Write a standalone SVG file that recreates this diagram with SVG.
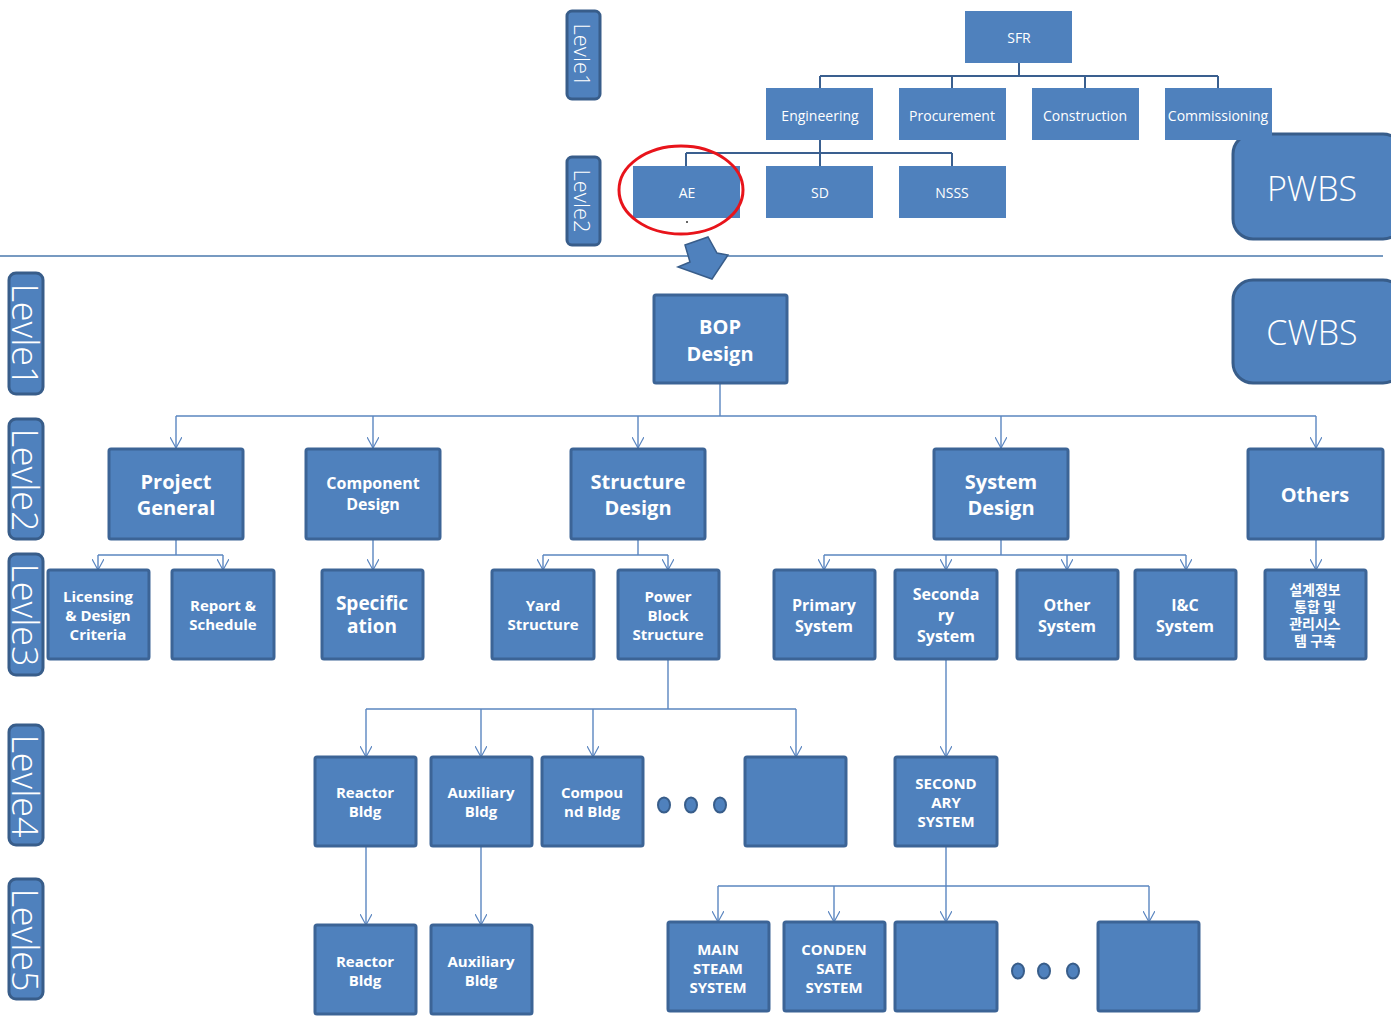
<svg xmlns="http://www.w3.org/2000/svg" width="1391" height="1025" viewBox="0 0 1391 1025">
<defs>
<style>
.tbox{fill:#4f81bd;stroke:none}
.box{fill:#4f81bd;stroke:#3c6496;stroke-width:3}
.lvl{fill:#4f81bd;stroke:#385d8a;stroke-width:3}
.wbs{fill:#4f81bd;stroke:#385d8a;stroke-width:3}
.tt{font-family:"Open Sans","Noto Sans","Noto Sans CJK KR",sans-serif;font-size:14px;fill:#fff;text-anchor:middle;dominant-baseline:central}
.bt{font-family:"Open Sans","Noto Sans","Noto Sans CJK KR",sans-serif;font-weight:bold;fill:#fff;text-anchor:middle;dominant-baseline:central}
.lt{font-family:"Open Sans","Noto Sans",sans-serif;font-weight:300;fill:#fff;text-anchor:middle;dominant-baseline:central}
.kt{font-family:"Noto Sans CJK KR",sans-serif;font-weight:bold;fill:#fff;text-anchor:middle;dominant-baseline:central;font-size:14px}
.tc{fill:none;stroke:#3a5f8f;stroke-width:2}
.c{fill:none;stroke:#5b86c0;stroke-width:1.4}
.ca{fill:none;stroke:#5b86c0;stroke-width:1.4;marker-end:url(#v)}
.dot{fill:#4f81bd;stroke:#385d8a;stroke-width:2}
</style>
<marker id="v" viewBox="0 0 12 12" refX="11" refY="6" markerWidth="12" markerHeight="12" markerUnits="userSpaceOnUse" orient="auto">
<path d="M0,0 L11,6 L0,12" fill="none" stroke="#5b86c0" stroke-width="1.2"/>
</marker>
</defs>
<rect width="1391" height="1025" fill="#fff"/>

<!-- separator -->
<line x1="0" y1="256" x2="1383" y2="256" stroke="#4a78ad" stroke-width="1.3"/>

<!-- connectors -->
<g id="connectors">
<path class="tc" d="M1019,63 V76 M820,76 H1218 M820,76 V88 M952,76 V88 M1085,76 V88 M1218,76 V88"/>
<path class="tc" d="M820,140 V153 M686,153 H952 M686,153 V166 M820,153 V166 M952,153 V166"/>
<path class="c" d="M720,383 V416 M176,416 H1316"/>
<path class="ca" d="M176,416 V448"/>
<path class="ca" d="M373,416 V448"/>
<path class="ca" d="M638,416 V448"/>
<path class="ca" d="M1001,416 V448"/>
<path class="ca" d="M1316,416 V448"/>
<path class="c" d="M176,539 V555 M98,555 H223"/>
<path class="ca" d="M98,555 V570"/>
<path class="ca" d="M223,555 V570"/>
<path class="ca" d="M373,539 V570"/>
<path class="c" d="M638,539 V555 M543,555 H668"/>
<path class="ca" d="M543,555 V570"/>
<path class="ca" d="M668,555 V570"/>
<path class="c" d="M1001,539 V555 M824,555 H1186"/>
<path class="ca" d="M824,555 V570"/>
<path class="ca" d="M946,555 V570"/>
<path class="ca" d="M1067,555 V570"/>
<path class="ca" d="M1186,555 V570"/>
<path class="ca" d="M1316,539 V570"/>
<path class="c" d="M668,660 V709 M366,709 H796"/>
<path class="ca" d="M366,709 V757"/>
<path class="ca" d="M481,709 V757"/>
<path class="ca" d="M593,709 V757"/>
<path class="ca" d="M796,709 V757"/>
<path class="ca" d="M946,660 V757"/>
<path class="ca" d="M366,847 V925"/>
<path class="ca" d="M481,847 V925"/>
<path class="c" d="M946,847 V886 M718,886 H1149"/>
<path class="ca" d="M718,886 V922"/>
<path class="ca" d="M834,886 V922"/>
<path class="ca" d="M946,886 V922"/>
<path class="ca" d="M1149,886 V922"/>
</g>

<!-- top level labels -->
<g id="top-levle1"><rect class="lvl" x="567" y="11" width="33" height="88" rx="5"/><text class="lt" font-size="22" transform="translate(583,55) rotate(90)">Levle1</text></g>
<g id="top-levle2"><rect class="lvl" x="567" y="157" width="33" height="88" rx="5"/><text class="lt" font-size="22" transform="translate(583,201) rotate(90)">Levle2</text></g>

<!-- PWBS / CWBS -->
<g id="pwbs"><rect class="wbs" x="1233" y="134" width="170" height="105" rx="20"/><text class="lt" font-size="34" x="1312" y="188">PWBS</text></g>
<g id="cwbs"><rect class="wbs" x="1233" y="280" width="170" height="103" rx="20"/><text class="lt" font-size="34" x="1312" y="332">CWBS</text></g>

<!-- top tree -->
<g id="sfr"><rect class="tbox" x="965" y="11" width="107" height="52"/><text class="tt" font-size="13" x="1019" y="37">SFR</text></g>
<g id="engineering"><rect class="tbox" x="766" y="88" width="107" height="52"/><text class="tt" x="820" y="115">Engineering</text></g>
<g id="procurement"><rect class="tbox" x="899" y="88" width="107" height="52"/><text class="tt" x="952" y="115">Procurement</text></g>
<g id="construction"><rect class="tbox" x="1032" y="88" width="107" height="52"/><text class="tt" x="1085" y="115">Construction</text></g>
<g id="commissioning"><rect class="tbox" x="1165" y="88" width="107" height="52" stroke="#fff" stroke-width="2"/><text class="tt" x="1218" y="115">Commissioning</text></g>
<g id="ae"><rect class="tbox" x="633" y="166" width="107" height="52"/><text class="tt" x="687" y="192">AE</text><circle cx="687" cy="222" r="1" fill="#333"/></g>
<g id="sd"><rect class="tbox" x="766" y="166" width="107" height="52"/><text class="tt" x="820" y="192">SD</text></g>
<g id="nsss"><rect class="tbox" x="899" y="166" width="107" height="52"/><text class="tt" x="952" y="192">NSSS</text></g>
<ellipse cx="681" cy="190" rx="62" ry="44" fill="none" stroke="#e8141b" stroke-width="3"/>

<!-- block arrow -->
<path d="M685,245 L708,237 L717,253 L728,255 L712,279 L678,267 L690,262 Z" fill="#4f81bd" stroke="#385d8a" stroke-width="1.5"/>

<!-- lower level labels -->
<g id="levle1"><rect class="lvl" x="9" y="273" width="34" height="121" rx="7"/><text class="lt" font-size="36" transform="translate(25,335) rotate(90)">Levle1</text></g>
<g id="levle2"><rect class="lvl" x="9" y="419" width="34" height="120" rx="7"/><text class="lt" font-size="36" transform="translate(25,480) rotate(90)">Levle2</text></g>
<g id="levle3"><rect class="lvl" x="9" y="554" width="34" height="121" rx="7"/><text class="lt" font-size="36" transform="translate(25,615) rotate(90)">Levle3</text></g>
<g id="levle4"><rect class="lvl" x="9" y="725" width="34" height="120" rx="7"/><text class="lt" font-size="36" transform="translate(25,786) rotate(90)">Levle4</text></g>
<g id="levle5"><rect class="lvl" x="9" y="879" width="34" height="120" rx="7"/><text class="lt" font-size="36" transform="translate(25,940) rotate(90)">Levle5</text></g>

<!-- level1 -->
<g id="bop"><rect class="box" x="654" y="295" width="133" height="88" rx="2"/><text class="bt" font-size="20" x="720" y="326">BOP</text><text class="bt" font-size="20" x="720" y="353">Design</text></g>

<!-- level2 -->
<g id="project-general"><rect class="box" x="109" y="449" width="134" height="90" rx="2"/><text class="bt" font-size="20" x="176" y="481">Project</text><text class="bt" font-size="20" x="176" y="507">General</text></g>
<g id="component-design"><rect class="box" x="306" y="449" width="134" height="90" rx="2"/><text class="bt" font-size="16" x="373" y="483">Component</text><text class="bt" font-size="16" x="373" y="504">Design</text></g>
<g id="structure-design"><rect class="box" x="571" y="449" width="134" height="90" rx="2"/><text class="bt" font-size="20" x="638" y="481">Structure</text><text class="bt" font-size="20" x="638" y="507">Design</text></g>
<g id="system-design"><rect class="box" x="934" y="449" width="134" height="90" rx="2"/><text class="bt" font-size="20" x="1001" y="481">System</text><text class="bt" font-size="20" x="1001" y="507">Design</text></g>
<g id="others"><rect class="box" x="1248" y="449" width="135" height="90" rx="2"/><text class="bt" font-size="20" x="1315" y="494">Others</text></g>

<!-- level3 -->
<g id="licensing"><rect class="box" x="48" y="570" width="101" height="89" rx="2"/><text class="bt" font-size="15" x="98" y="596">Licensing</text><text class="bt" font-size="15" x="98" y="615">&amp; Design</text><text class="bt" font-size="15" x="98" y="634">Criteria</text></g>
<g id="report"><rect class="box" x="172" y="570" width="102" height="89" rx="2"/><text class="bt" font-size="15" x="223" y="605">Report &amp;</text><text class="bt" font-size="15" x="223" y="624">Schedule</text></g>
<g id="specification"><rect class="box" x="322" y="570" width="101" height="89" rx="2"/><text class="bt" font-size="19" x="372" y="603">Specific</text><text class="bt" font-size="19" x="372" y="626">ation</text></g>
<g id="yard"><rect class="box" x="492" y="570" width="102" height="89" rx="2"/><text class="bt" font-size="15" x="543" y="605">Yard</text><text class="bt" font-size="15" x="543" y="624">Structure</text></g>
<g id="power-block"><rect class="box" x="618" y="570" width="101" height="89" rx="2"/><text class="bt" font-size="15" x="668" y="596">Power</text><text class="bt" font-size="15" x="668" y="615">Block</text><text class="bt" font-size="15" x="668" y="634">Structure</text></g>
<g id="primary"><rect class="box" x="774" y="570" width="101" height="89" rx="2"/><text class="bt" font-size="16" x="824" y="605">Primary</text><text class="bt" font-size="16" x="824" y="626">System</text></g>
<g id="secondary"><rect class="box" x="895" y="570" width="102" height="89" rx="2"/><text class="bt" font-size="16" x="946" y="594">Seconda</text><text class="bt" font-size="16" x="946" y="615">ry</text><text class="bt" font-size="16" x="946" y="636">System</text></g>
<g id="other-system"><rect class="box" x="1017" y="570" width="101" height="89" rx="2"/><text class="bt" font-size="16" x="1067" y="605">Other</text><text class="bt" font-size="16" x="1067" y="626">System</text></g>
<g id="ic-system"><rect class="box" x="1135" y="570" width="101" height="89" rx="2"/><text class="bt" font-size="16" x="1185" y="605">I&amp;C</text><text class="bt" font-size="16" x="1185" y="626">System</text></g>
<g id="korean"><rect class="box" x="1265" y="570" width="101" height="89" rx="2"/><text class="kt" x="1315" y="589">설계정보</text><text class="kt" x="1315" y="606">통합 및</text><text class="kt" x="1315" y="623">관리시스</text><text class="kt" x="1315" y="640">템 구축</text></g>

<!-- level4 -->
<g id="reactor4"><rect class="box" x="315" y="757" width="101" height="89" rx="2"/><text class="bt" font-size="15" x="365" y="792">Reactor</text><text class="bt" font-size="15" x="365" y="811">Bldg</text></g>
<g id="aux4"><rect class="box" x="431" y="757" width="101" height="89" rx="2"/><text class="bt" font-size="15" x="481" y="792">Auxiliary</text><text class="bt" font-size="15" x="481" y="811">Bldg</text></g>
<g id="compound4"><rect class="box" x="542" y="757" width="101" height="89" rx="2"/><text class="bt" font-size="15" x="592" y="792">Compou</text><text class="bt" font-size="15" x="592" y="811">nd Bldg</text></g>
<g id="dots4"><ellipse class="dot" cx="664" cy="805" rx="6" ry="7.5"/><ellipse class="dot" cx="691" cy="805" rx="6" ry="7.5"/><ellipse class="dot" cx="720" cy="805" rx="6" ry="7.5"/></g>
<g id="empty4"><rect class="box" x="745" y="757" width="101" height="89" rx="2"/></g>
<g id="secondary4"><rect class="box" x="895" y="757" width="102" height="89" rx="2"/><text class="bt" font-size="15" x="946" y="783">SECOND</text><text class="bt" font-size="15" x="946" y="802">ARY</text><text class="bt" font-size="15" x="946" y="821">SYSTEM</text></g>

<!-- level5 -->
<g id="reactor5"><rect class="box" x="315" y="925" width="101" height="89" rx="2"/><text class="bt" font-size="15" x="365" y="961">Reactor</text><text class="bt" font-size="15" x="365" y="980">Bldg</text></g>
<g id="aux5"><rect class="box" x="431" y="925" width="101" height="89" rx="2"/><text class="bt" font-size="15" x="481" y="961">Auxiliary</text><text class="bt" font-size="15" x="481" y="980">Bldg</text></g>
<g id="main-steam"><rect class="box" x="668" y="922" width="101" height="89" rx="2"/><text class="bt" font-size="15" x="718" y="949">MAIN</text><text class="bt" font-size="15" x="718" y="968">STEAM</text><text class="bt" font-size="15" x="718" y="987">SYSTEM</text></g>
<g id="condensate"><rect class="box" x="784" y="922" width="101" height="89" rx="2"/><text class="bt" font-size="15" x="834" y="949">CONDEN</text><text class="bt" font-size="15" x="834" y="968">SATE</text><text class="bt" font-size="15" x="834" y="987">SYSTEM</text></g>
<g id="empty5a"><rect class="box" x="895" y="922" width="102" height="89" rx="2"/></g>
<g id="dots5"><ellipse class="dot" cx="1018" cy="971" rx="6" ry="7.5"/><ellipse class="dot" cx="1044" cy="971" rx="6" ry="7.5"/><ellipse class="dot" cx="1073" cy="971" rx="6" ry="7.5"/></g>
<g id="empty5b"><rect class="box" x="1098" y="922" width="101" height="89" rx="2"/></g>
</svg>
